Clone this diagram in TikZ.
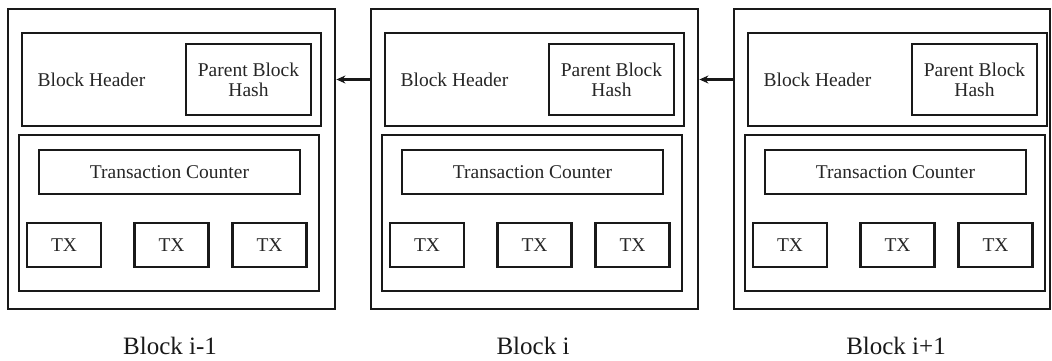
\documentclass[tikz,border=0pt]{standalone}
\usepackage{fontspec}
\setmainfont{Liberation Serif}
\usetikzlibrary{arrows.meta}
\begin{document}
\begin{tikzpicture}[x=1pt,y=-1pt,
  box/.style={draw=black!90, line width=2.8pt, rectangle, inner sep=0pt, text=black!85,
    font=\fontsize{19.5}{22}\selectfont, align=center},
  txt/.style={inner sep=0pt, text=black!85, font=\fontsize{19.5}{22}\selectfont},
  lbl/.style={inner sep=0pt, text=black!90, font=\fontsize{25}{28}\selectfont},
  link/.style={draw=black!90, line width=2.2pt, -{Stealth[length=9pt,width=8pt]}}]
\useasboundingbox (0,0) rectangle (1052,361);
\foreach \i/\ox/\w/\lab in {1/8/327/Block i-1, 2/371/327/Block i, 3/734/316/Block i+1}{
  \node[box, minimum width=\w pt, minimum height=300pt] (b\i) at (\ox+\w/2, 159) {};
  \node[box, minimum width=299pt, minimum height=93pt] (b\i h) at (\ox+163.5, 79.5) {};
  \node[box, minimum width=125pt, minimum height=71pt] (b\i p) at (\ox+240.5, 79.5) {Parent Block\\[-2pt]Hash};
  \node[txt] (b\i ht) at (\ox+83.5, 80) {Block Header};
  \node[box, minimum width=300pt, minimum height=156pt] (b\i b) at (\ox+161, 213) {};
  \node[box, minimum width=261pt, minimum height=44pt] (b\i c) at (\ox+161.5, 172) {Transaction Counter};
  \node[box, minimum width=74pt, minimum height=44pt] (b\i x1) at (\ox+56, 245) {TX};
  \node[box, minimum width=74pt, minimum height=44pt] (b\i x2) at (\ox+163.5, 245) {TX};
  \node[box, minimum width=74pt, minimum height=44pt] (b\i x3) at (\ox+261.5, 245) {TX};
  \node[lbl] (b\i l) at (\ox+162, 346) {\lab};
}
\draw[link] (b2.west |- b2h.center) -- (b1.east |- b2h.center);
\draw[link] (b3.west |- b3h.center) -- (b2.east |- b3h.center);
\end{tikzpicture}
\end{document}
